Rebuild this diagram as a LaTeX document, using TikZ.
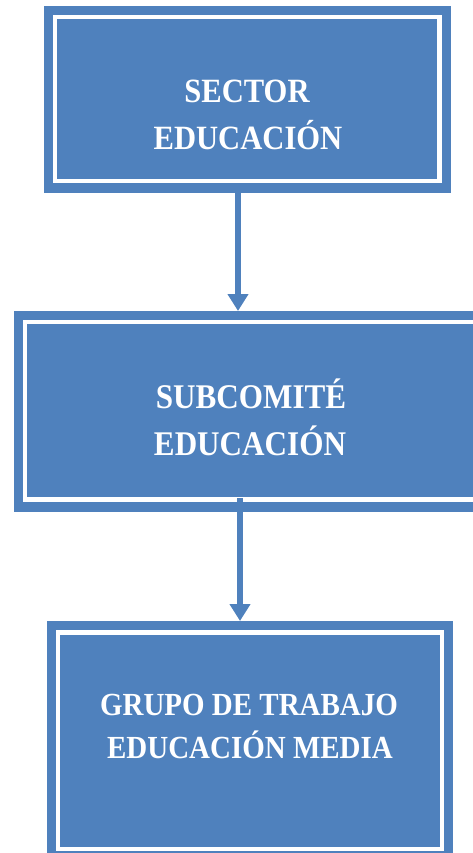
\documentclass[tikz,border=0pt]{standalone}
\usepackage{fontspec}
\newfontfamily\boxfont{Liberation Serif}[FakeStretch=0.9]
\usetikzlibrary{arrows.meta}
\definecolor{boxblue}{HTML}{4F81BD}
\tikzset{
  panel/.style={rectangle, fill=boxblue, draw=none, inner sep=0pt, outer sep=0pt},
  innerline/.style={draw=white, line width=4.5pt},
  label/.style={anchor=base, text=white, inner sep=0pt, font=\boxfont\bfseries\fontsize{#1}{#1}\selectfont},
  flow/.style={draw=boxblue, line width=5.8pt, -{Triangle[width=20pt,length=17pt]}}
}
\begin{document}
\begin{tikzpicture}[x=1pt,y=-1pt]
\useasboundingbox (0,0) rectangle (473,853);
\clip (0,0) rectangle (473,853);
% boxes
\node[panel, minimum width=407pt, minimum height=187pt] (b1) at (247.5,99.5) {};
\node[panel, minimum width=476pt, minimum height=201pt] (b2) at (252,411.5) {};
\node[panel, minimum width=406.5pt, minimum height=239pt] (b3) at (249.75,740.5) {};
% inner white frames
\draw[innerline] ([shift={(11,11)}]b1.north west) rectangle ([shift={(-11.5,-12)}]b1.south east);
\draw[innerline] ([shift={(11,11)}]b2.north west) rectangle ([shift={(-11,-12.5)}]b2.south east);
\draw[innerline] ([shift={(11.5,11.5)}]b3.north west) rectangle ([shift={(-11,-11)}]b3.south east);
% texts
\node[label=34] (t1a) at (247,102.5) {SECTOR};
\node[label=34] (t1b) at (248,150) {EDUCACIÓN};
\node[label=34.6] (t2a) at (251,408) {SUBCOMITÉ};
\node[label=34.6] (t2b) at (250,455) {EDUCACIÓN};
\node[label=32.2] (t3a) at (249,715) {GRUPO DE TRABAJO};
\node[label=32.2] (t3b) at (250,758.5) {EDUCACIÓN MEDIA};
% connectors
\coordinate (c1) at (238,0);
\coordinate (c2) at (240,0);
\draw[flow] (b1.south -| c1) -- (b2.north -| c1);
\draw[flow, shorten <=-14pt] (b2.south -| c2) -- (b3.north -| c2);
\end{tikzpicture}
\end{document}
